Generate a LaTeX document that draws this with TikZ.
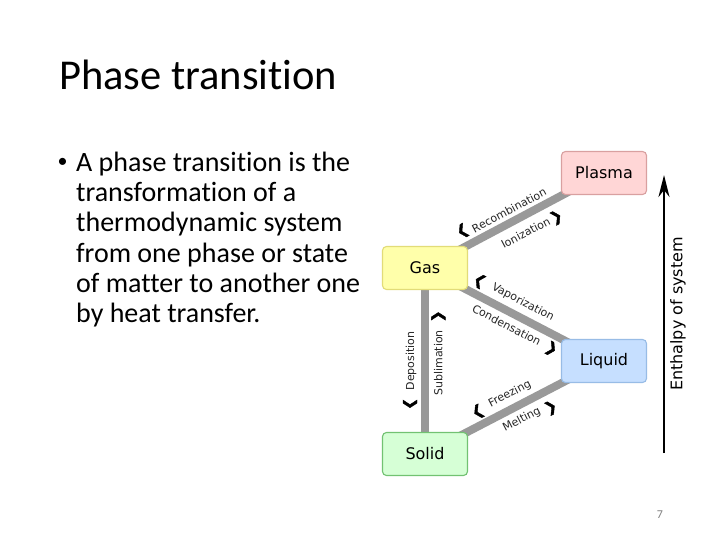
\documentclass[tikz,border=0pt]{standalone}
\usepackage{fontspec}
\setmainfont{Carlito}[Ligatures=NoCommon]
\newfontfamily\dejavu{DejaVu Sans}
\newfontfamily\chevfont{DejaVu Sans}[FakeBold=3]
\usetikzlibrary{arrows.meta, backgrounds}

\definecolor{plasmafill}{HTML}{FFD6D6}
\definecolor{plasmaline}{HTML}{D9A0A0}
\definecolor{gasfill}{HTML}{FFFFAA}
\definecolor{gasline}{HTML}{E2DC78}
\definecolor{liquidfill}{HTML}{C6DFFF}
\definecolor{liquidline}{HTML}{98BCE6}
\definecolor{solidfill}{HTML}{D6FFD6}
\definecolor{solidline}{HTML}{72C272}
\definecolor{linkgray}{HTML}{999999}

\begin{document}
\begin{tikzpicture}[
  x=1pt, y=-1pt,
  body/.style={anchor=base west, inner sep=0pt, font=\fontsize{28}{30}\selectfont},
  phase/.style={draw, rounded corners=4pt, line width=1.1pt,
    minimum width=85pt, minimum height=43pt, font=\dejavu\fontsize{16}{16}\selectfont},
  link/.style={line width=8pt, draw=linkgray},
  lbl/.style={sloped, inner sep=0pt, text=black!85, font=\dejavu\fontsize{11}{12}\selectfont},
  chev/.style={sloped, inner sep=0pt, text=black, font=\chevfont\fontsize{14}{14}\selectfont},
]
  \useasboundingbox (0,0) rectangle (720,540);

  % Title and bullet text
  \node[anchor=base west, inner sep=0pt, font=\fontsize{42.5}{42.5}\selectfont] (title) at (59,90) {Phase transition};
  \node[inner sep=0pt, font=\fontsize{20}{20}\selectfont] (bullet) at (62.5,163) {•};
  \foreach \txt [count=\i from 0] in {A phase transition is the, transformation of a,
      thermodynamic system, from one phase or state, of matter to another one, by heat transfer.}
    \node[body] (line\i) at (76,172+30*\i) {\txt};

  % Phases
  \node[phase, fill=plasmafill, draw=plasmaline] (plasma) at (604,173) {Plasma};
  \node[phase, fill=gasfill,    draw=gasline]    (gas)    at (425,268) {Gas};
  \node[phase, fill=liquidfill, draw=liquidline] (liquid) at (604,361) {Liquid};
  \node[phase, fill=solidfill,  draw=solidline]  (solid)  at (425,454) {Solid};

  % Transitions, behind the boxes
  \begin{scope}[on background layer]
    \fill[white] (0,0) rectangle (720,540);
    % Gas <-> Plasma
    \draw[link] (gas.center) --
      node[lbl, pos=.50, yshift=11.5pt] {Recombination}
      node[lbl, pos=.52, yshift=-16pt] {Ionization}
      node[chev, pos=.25, yshift=15pt] {❮}
      node[chev, pos=.69, yshift=-17pt] {❯} (plasma.center);
    % Gas <-> Liquid
    \draw[link] (gas.center) --
      node[lbl, pos=.51, yshift=14.5pt] {Vaporization}
      node[lbl, pos=.49, yshift=-13pt] {Condensation}
      node[chev, pos=.27, yshift=13.5pt] {❮}
      node[chev, pos=.74, yshift=-13.5pt] {❯} (liquid.center);
    % Solid <-> Liquid
    \draw[link] (solid.center) --
      node[lbl, pos=.51, yshift=14pt] {Freezing}
      node[lbl, pos=.505, yshift=-14pt] {Melting}
      node[chev, pos=.33, yshift=13pt] {❮}
      node[chev, pos=.66, yshift=-17pt] {❯} (liquid.center);
    % Solid <-> Gas
    \draw[link] (solid.center) --
      node[lbl, pos=.50, yshift=14pt] {Deposition}
      node[lbl, pos=.49, yshift=-13.3pt] {Sublimation}
      node[chev, pos=.27, yshift=15pt] {❮}
      node[chev, pos=.74, yshift=-13.3pt] {❯} (gas.center);
  \end{scope}

  % Enthalpy axis
  \coordinate (enthbot) at (664,453);
  \coordinate (enthtop) at (664,175);
  \draw[line width=2.6pt, -{Stealth[length=22pt, width=11pt, inset=7pt]}] (enthbot) --
    node[sloped, pos=.5, yshift=-14pt, inner sep=0pt, font=\dejavu\fontsize{16}{16}\selectfont] {Enthalpy of system} (enthtop);

  % Slide number
  \node[anchor=base, inner sep=0pt, text=black!50, font=\fontsize{12}{12}\selectfont] (pagenum) at (660,518) {7};
\end{tikzpicture}
\end{document}
